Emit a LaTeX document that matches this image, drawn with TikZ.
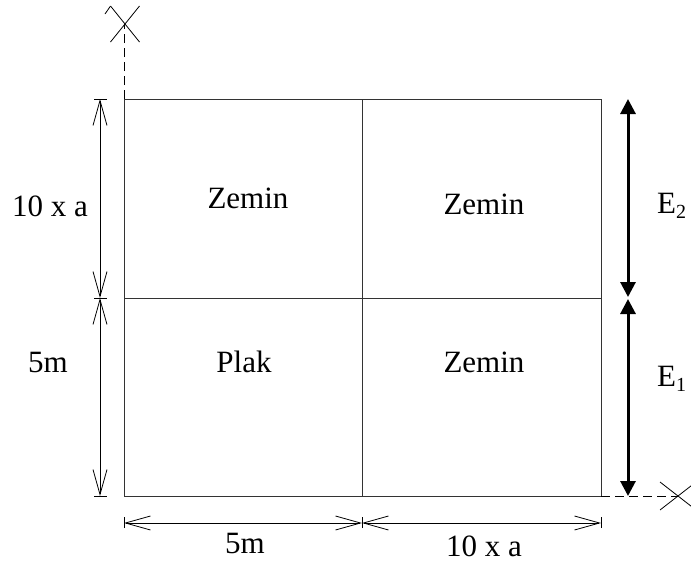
\documentclass[tikz,border=0pt]{standalone}
\usepackage{fontspec}
\setmainfont{Liberation Serif}
\usetikzlibrary{arrows.meta}
\tikzset{
  gridline/.style={line width=0.9pt, draw=black!80},
  dimline/.style={line width=0.8pt, {Straight Barb[length=25pt,width=14pt]}-{Straight Barb[length=25pt,width=14pt]}},
  tickline/.style={line width=0.9pt},
  axisdash/.style={line width=0.9pt, dash pattern=on 9pt off 5pt},
  crossline/.style={line width=0.8pt},
  bigarrow/.style={line width=3pt, {Triangle[length=15pt,width=15pt]}-{Triangle[length=15pt,width=15pt]}},
  lbl/.style={font=\fontsize{31}{37}\selectfont, anchor=base, inner sep=0pt}
}
\newcommand{\subtwo}[1]{\raisebox{-5pt}{\fontsize{20}{20}\selectfont #1}}
\begin{document}
\begin{tikzpicture}[x=1pt,y=-1pt]
\useasboundingbox (0,0) rectangle (691,565);
% grid corners
\coordinate (tl) at (124,99);
\coordinate (tm) at (362,99);
\coordinate (tr) at (601,99);
\coordinate (ml) at (124,298);
\coordinate (mm) at (362,298);
\coordinate (mr) at (601,298);
\coordinate (bl) at (124,496);
\coordinate (bm) at (362,496);
\coordinate (br) at (601,496);
% grid
\draw[gridline] (tl) rectangle (br);
\draw[gridline] (tm) -- (bm);
\draw[gridline] (ml) -- (mr);
% axes
\coordinate (ycross) at (124,24);
\coordinate (xcross) at (678,496);
\draw[axisdash] (tl) -- (ycross);
\draw[axisdash] (br) -- (xcross);
\draw[crossline] (110.5,6) -- (139.5,42);
\draw[crossline] (139.5,6) -- (110.5,42);
\draw[crossline] (105,14) -- (110.5,6);
\draw[crossline] (660,482) -- (696,510);
\draw[crossline] (660,510) -- (696,482);
% left dimension
\coordinate (d1) at (100,99);
\coordinate (d2) at (100,298);
\coordinate (d3) at (100,496);
\draw[dimline] (d1) -- (d2);
\draw[dimline] (d2) -- (d3);
\foreach \c in {d1,d2,d3} \draw[tickline] ([xshift=-6pt]\c) -- ([xshift=7pt]\c);
% bottom dimension
\coordinate (h1) at (124,523);
\coordinate (h2) at (362,523);
\coordinate (h3) at (601,523);
\draw[dimline] (h1) -- (h2);
\draw[dimline] (h2) -- (h3);
\foreach \c in {h1,h2,h3} \draw[tickline] ([yshift=-5pt]\c) -- ([yshift=6pt]\c);
% E arrows
\coordinate (e2t) at (628,99);
\coordinate (e2b) at (628,297);
\coordinate (e1t) at (628,299);
\coordinate (e1b) at (628,496);
\draw[bigarrow] (e2t) -- (e2b);
\draw[bigarrow] (e1t) -- (e1b);
% labels
\node[lbl] (lv1) at (50,216) {10 x a};
\node[lbl] (lv2) at (48,372) {5m};
\node[lbl] (c11) at (248,208) {Zemin};
\node[lbl] (c12) at (484,214) {Zemin};
\node[lbl] (c21) at (244,372) {Plak};
\node[lbl] (c22) at (484,372) {Zemin};
\node[lbl] (lh1) at (245,553) {5m};
\node[lbl] (lh2) at (484,556) {10 x a};
\node[lbl, anchor=base west] (E2) at (657,213) {E\subtwo{2}};
\node[lbl, anchor=base west] (E1) at (657,386) {E\subtwo{1}};
\end{tikzpicture}
\end{document}
